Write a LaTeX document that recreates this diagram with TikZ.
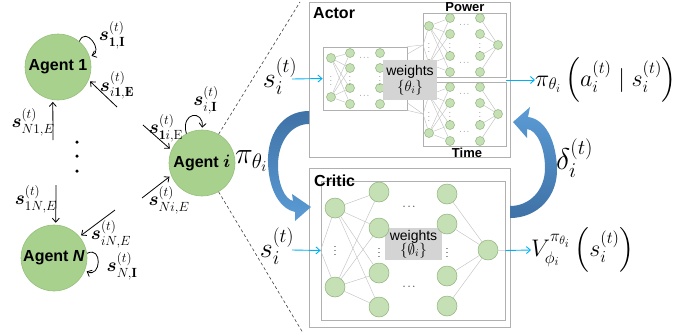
\RequirePackage{fix-cm}
\documentclass[tikz,border=0pt]{standalone}
\usepackage{amsmath,bm}
\usepackage{fontspec}
\setsansfont{Liberation Sans}
\usetikzlibrary{arrows.meta}
\definecolor{agentfill}{HTML}{A9D18E}
\definecolor{agentdraw}{HTML}{96C07C}
\definecolor{nnfill}{HTML}{C5E0B4}
\definecolor{nndraw}{HTML}{8FB47C}
\definecolor{edgec}{HTML}{C4C4C4}
\definecolor{boxc}{HTML}{B0B0B0}
\definecolor{wfill}{HTML}{D4D4D4}
\definecolor{cyanc}{HTML}{00B0F0}
\definecolor{bdark}{HTML}{3F72A6}
\definecolor{blight}{HTML}{5B9BD5}
\begin{document}
\begin{tikzpicture}[x=1pt,y=-1pt,
  agent/.style={circle, fill=agentfill, draw=agentdraw, line width=0.6pt, minimum size=66pt, inner sep=0pt,
    font=\sffamily\bfseries\fontsize{16}{18}\selectfont},
  nn/.style={circle, fill=nnfill, draw=nndraw, line width=0.5pt, minimum size=9pt, inner sep=0pt},
  bignn/.style={nn, minimum size=20pt},
  edge/.style={draw=edgec, line width=0.45pt},
  netbox/.style={draw=boxc, line width=0.8pt, fill=white, inner sep=0pt},
  bigbox/.style={draw=boxc, line width=1pt, inner sep=0pt},
  wbox/.style={fill=wfill, inner sep=0pt, align=center},
  title/.style={font=\sffamily\bfseries\fontsize{16}{18}\selectfont, inner sep=0pt},
  subtitle/.style={font=\sffamily\bfseries\fontsize{13}{15}\selectfont, inner sep=0pt},
  slab/.style={font=\fontsize{19}{22}\selectfont, inner sep=0pt},
  sarr/.style={-{Straight Barb[length=4pt,width=7pt]}, line width=0.8pt, shorten >=2pt},
  cyanarr/.style={draw=cyanc, line width=0.9pt, -{Straight Barb[length=4pt,width=7pt]}},
  dashline/.style={draw=black!75, line width=0.6pt, dash pattern=on 3pt off 2.5pt},
  dotn/.style={circle, fill=black, minimum size=3.5pt, inner sep=0pt},
  vd/.style={inner sep=0pt, font=\fontsize{7}{8}\selectfont},
  bvd/.style={inner sep=0pt, font=\fontsize{11}{12}\selectfont},
  mlab/.style={inner sep=0pt}
]
\useasboundingbox (0,0) rectangle (685,335);

% ---------------- agents
\node[agent] (a1) at (58,67) {Agent 1};
\node[agent] (aN) at (54,258) {Agent \textit{N}};
\node[agent] (ai) at (202,163) {Agent \fontsize{18}{18}\selectfont$\bm{i}$};

\node[dotn] (d1) at (77,142) {};
\node[dotn] (d2) at (77,156) {};
\node[dotn] (d3) at (77,171) {};

% agent 1 arrows
\draw[sarr] (a1.50) .. controls +(6,-16) and +(14,-6) .. (a1.18);
\coordinate (e1) at (117,107);
\draw[sarr] (e1) -- (a1.-23);
\coordinate (e2) at (53,140);
\draw[sarr] (e2) -- (a1.-99);
% agent N arrows
\coordinate (e3) at (56,185);
\draw[sarr] (e3) -- (aN.87);
\coordinate (e4) at (115,210);
\draw[sarr] (e4) -- (aN.40);
\draw[sarr] (aN.8) .. controls +(16,-8) and +(16,8) .. (aN.-22);
% agent i arrows
\coordinate (e5) at (143,125);
\draw[sarr] (e5) -- (ai.157);
\coordinate (e6) at (142,198);
\draw[sarr] (e6) -- (ai.-158);
\draw[sarr] (ai.118) .. controls +(-6,-22) and +(2,-20) .. (ai.90);

% state labels
\node[slab] (l1) at (112,35) {$\bm{s}^{(t)}_{\mathbf{1,I}}$};
\node[slab] (l2) at (117,85) {$\bm{s}^{(t)}_{i\mathbf{1,E}}$};
\node[slab] (l3) at (33,122) {$\bm{s}^{(t)}_{N1,E}$};
\node[slab] (l4) at (36,199) {$\bm{s}^{(t)}_{1N,E}$};
\node[slab] (l5) at (111,234) {$\bm{s}^{(t)}_{iN,E}$};
\node[slab] (l6) at (122,266) {$\bm{s}^{(t)}_{N,\mathbf{I}}$};
\node[slab] (l7) at (166,128) {$\bm{s}^{(t)}_{\mathbf{1}i,\mathrm{E}}$};
\node[slab] (l8) at (169,200) {$\bm{s}^{(t)}_{Ni,E}$};
\node[slab] (l9) at (206,100) {$\bm{s}^{(t)}_{i,\mathbf{I}}$};

\node[mlab, anchor=west] (pil) at (235,161) {\fontsize{30}{34}\selectfont$\pi_{\theta_i}$};

% dashed zoom lines
\coordinate (dt) at (300,2);
\coordinate (db) at (303,333);
\draw[dashline] (ai.60) -- (dt);
\draw[dashline] (ai.-60) -- (db);

% ---------------- actor
\node[bigbox, minimum width=201pt, minimum height=155pt] (actor) at (409.5,79.5) {};
\node[title, anchor=west] (actl) at (313,13) {Actor};

\node[netbox, minimum width=84pt, minimum height=63pt] (abox) at (365,78.5) {};
\node[netbox, minimum width=83pt, minimum height=64pt] (pbox) at (464.5,45) {};
\node[netbox, minimum width=83pt, minimum height=64pt] (tbox) at (464.5,114) {};
\node[subtitle, anchor=base] (pwl) at (465,11.5) {Power};
\node[subtitle, anchor=base] (tml) at (467,157) {Time};

% input subnet
\foreach \n/\y in {a/58,b/97} \node[nn] (i1\n) at (331,\y) {};
\foreach \n/\y in {a/53,b/68,c/88,d/104} {
  \node[nn] (i2\n) at (350,\y) {};
  \node[nn] (i3\n) at (380,\y) {};
}
\foreach \s in {a,b} \foreach \t in {a,b,c,d} \draw[edge] (i1\s) -- (i2\t);
\node[vd] (iv1) at (331,78) {$\vdots$};
\node[vd] (iv2) at (350,78) {$\vdots$};
\node[vd] (iv3) at (380,78) {$\vdots$};
\node[vd] (ic1) at (365,58) {$\cdots$};
\node[vd] (ic2) at (365,96) {$\cdots$};

% power subnet
\coordinate (pin) at (423,45);
\foreach \n/\y in {a/26,b/64} \node[nn] (p1\n) at (429,\y) {};
\foreach \n/\y in {a/18,b/34,c/56,d/72} {
  \node[nn] (p2\n) at (450,\y) {};
  \node[nn] (p3\n) at (480,\y) {};
}
\node[nn] (pout) at (498,45) {};
\foreach \s in {a,b} {\draw[edge] (pin) -- (p1\s); \foreach \t in {a,b,c,d} \draw[edge] (p1\s) -- (p2\t);}
\foreach \t in {a,b,c,d} \draw[edge] (p3\t) -- (pout);
\node[vd] (pv1) at (429,45) {$\vdots$};
\node[vd] (pv2) at (450,45) {$\vdots$};
\node[vd] (pv3) at (480,45) {$\vdots$};
\node[vd] (pc1) at (465,25) {$\cdots$};
\node[vd] (pc2) at (465,63) {$\cdots$};

% time subnet
\coordinate (tin) at (423,114);
\foreach \n/\y in {a/95,b/133} \node[nn] (t1\n) at (429,\y) {};
\foreach \n/\y in {a/87,b/103,c/125,d/141} {
  \node[nn] (t2\n) at (450,\y) {};
  \node[nn] (t3\n) at (480,\y) {};
}
\node[nn] (tout) at (498,114) {};
\foreach \s in {a,b} {\draw[edge] (tin) -- (t1\s); \foreach \t in {a,b,c,d} \draw[edge] (t1\s) -- (t2\t);}
\foreach \t in {a,b,c,d} \draw[edge] (t3\t) -- (tout);
\node[vd] (tv1) at (429,114) {$\vdots$};
\node[vd] (tv2) at (450,114) {$\vdots$};
\node[vd] (tv3) at (480,114) {$\vdots$};
\node[vd] (tc1) at (465,94) {$\cdots$};
\node[vd] (tc2) at (465,132) {$\cdots$};

\draw[edge] (abox.north east) -- (pin);
\draw[edge] (abox.30) -- (pin);
\draw[edge] (abox.south east) -- (tin);
\draw[edge] (abox.-30) -- (tin);

\node[wbox, minimum width=54pt, minimum height=40pt] (aw) at (410,80)
  {\sffamily\fontsize{14}{15}\selectfont weights\\[1pt]\fontsize{15}{16}\selectfont$\{\theta_i\}$};

% actor io
\coordinate (ain) at (292,79);
\node[mlab] (asl) at (280,76) {\fontsize{28}{30}\selectfont$s_i^{(t)}$};
\draw[cyanarr] (ain) -- (abox.west);
\coordinate (aout) at (506,80);
\node[mlab, anchor=west] (aol) at (535,80) {\fontsize{24}{28}\selectfont$\pi_{\theta_i}\left(a_i^{(t)}\mid s_i^{(t)}\right)$};
\draw[cyanarr] (aout) -- (aol.west);

% ---------------- critic
\node[bigbox, minimum width=201pt, minimum height=159pt] (critic) at (409.5,247.5) {};
\node[netbox, minimum width=184pt, minimum height=139pt] (cinner) at (413,250.5) {};
\node[title, anchor=west] (crl) at (314,181) {Critic};

\node[wbox, minimum width=57pt, minimum height=32pt] (cw) at (413.5,244)
  {\sffamily\fontsize{14}{15}\selectfont weights\\[-1pt]\fontsize{15}{16}\selectfont$\{\emptyset_i\}$};

\foreach \n/\y in {a/208,b/287} \node[bignn] (c1\n) at (335,\y) {};
\foreach \n/\y in {a/192,b/228,c/273,d/307} \node[bignn] (c2\n) at (379,\y) {};
\foreach \n/\y in {a/194,b/224,c/276,d/306} \node[bignn] (c3\n) at (447,\y) {};
\node[bignn] (cout) at (488,250) {};
\foreach \s in {a,b} {\draw[edge] (cinner.west) -- (c1\s); \foreach \t in {a,b,c,d} \draw[edge] (c1\s) -- (c2\t);}
\foreach \t in {a,b,c,d} \draw[edge] (c3\t) -- (cout);
\draw[edge] (cout) -- (cinner.east);
\node[bvd] (cv1) at (335,248) {$\vdots$};
\node[bvd] (cv2) at (379,250) {$\vdots$};
\node[bvd] (cv3) at (447,250) {$\vdots$};
\node[bvd] (cc1) at (410,207) {$\cdots$};
\node[bvd] (cc2) at (410,287) {$\cdots$};

\coordinate (cin) at (292,250);
\node[mlab] (csl) at (277,246) {\fontsize{28}{30}\selectfont$s_i^{(t)}$};
\draw[cyanarr] (cin) -- (cinner.west);
\node[mlab, anchor=west] (col) at (531,250) {\fontsize{24}{28}\selectfont$V_{\phi_i}^{\pi_{\theta_i}}\left(s_i^{(t)}\right)$};
\draw[cyanarr] (cinner.east) -- (col.west);

% ---------------- big blue arrows
\shade[top color=bdark, bottom color=blight]
  (309,111) .. controls (281,111) and (267,136) .. (268,163)
  .. controls (269,192) and (281,209) .. (295,212)
  -- (295,221) -- (311,207) -- (292,194) -- (293,201)
  .. controls (285,199) and (278,185) .. (278,165)
  .. controls (278,142) and (291,124) .. (309,124) -- cycle;
\shade[top color=blight, bottom color=bdark]
  (510,218) .. controls (538,218) and (558,196) .. (557,168)
  .. controls (556,140) and (545,119) .. (528,117)
  -- (530,107) -- (513,122) -- (527,138) -- (527,129)
  .. controls (537,130) and (545,148) .. (545,168)
  .. controls (545,190) and (530,206) .. (510,206) -- cycle;
\node[mlab, anchor=west] (dl) at (556,158) {\fontsize{30}{34}\selectfont$\delta_i^{(t)}$};
\end{tikzpicture}
\end{document}
